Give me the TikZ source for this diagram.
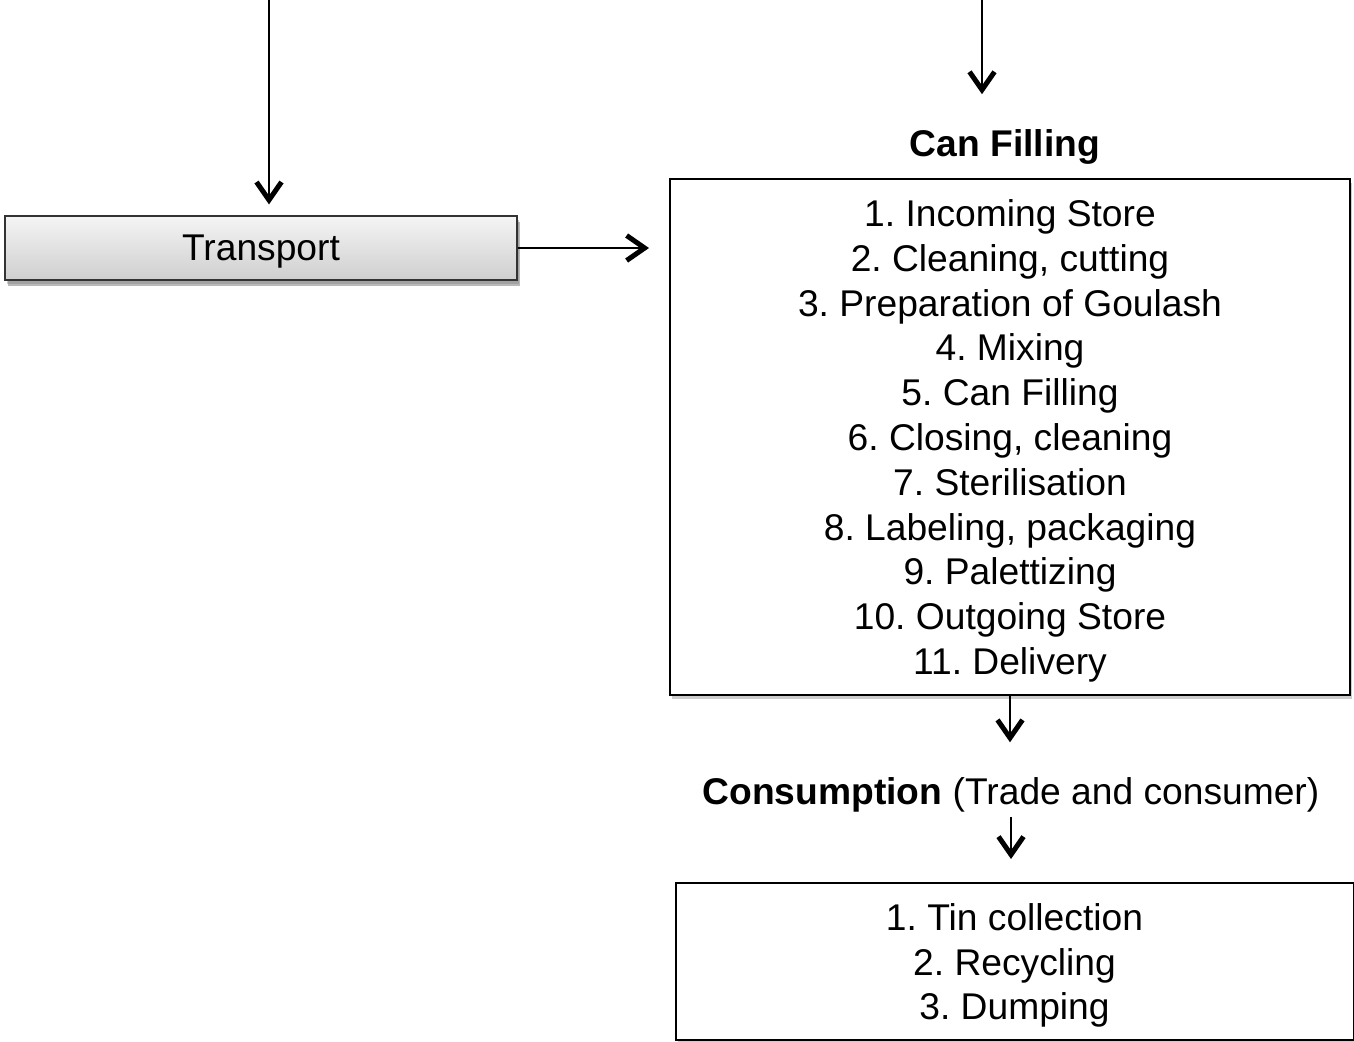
\documentclass[tikz,border=0pt]{standalone}
\usepackage{fontspec}
\setmainfont{Liberation Sans}
\usetikzlibrary{positioning,arrows.meta,shadows}
\frenchspacing

\begin{document}
\begin{tikzpicture}[x=0.5pt,y=-0.5pt,
  every node/.style={font=\fontsize{18.6}{22.4}\selectfont},
  stagebox/.style={rectangle,draw=black,line width=1pt,fill=white,align=center,inner sep=0pt,
                   text depth=0pt,
                   drop shadow={opacity=0.4,shadow xshift=1pt,shadow yshift=-2pt}},
  stagetitle/.style={inner sep=2pt},
  arrow/.style={-{Straight Barb[length=9pt,width=12.5pt,line width=2.5pt]},line width=1pt}
]
\useasboundingbox (0,0) rectangle (1354,1041);

% stages
\node[stagebox,draw=black!80,line width=0.6pt,top color=gray!8,bottom color=gray!38,
      text depth=-1.5pt,minimum width=256pt,minimum height=32pt,
      drop shadow={opacity=0.55,shadow xshift=1.5pt,shadow yshift=-3pt}] (transport) at (261,248) {Transport};
\node[stagebox,minimum width=340pt,minimum height=258pt] (filling) at (1010,437)
  {1. Incoming Store\\2. Cleaning, cutting\\3. Preparation of Goulash\\4. Mixing\\
   5. Can Filling\\6. Closing, cleaning\\7. Sterilisation\\8. Labeling, packaging\\
   9. Palettizing\\10. Outgoing Store\\11. Delivery};
\node[stagetitle,font=\fontsize{18.6}{22.4}\selectfont\bfseries] (fillingtitle) at (1005,147) {Can Filling};
\node[stagetitle] (consumption) at (1011,795) {\textbf{Consumption} (Trade and consumer)};
\node[stagebox,minimum width=339pt,minimum height=78.5pt] (disposal) at (1014.5,961.5)
  {1. Tin collection\\2. Recycling\\3. Dumping};

% incoming flows
\coordinate (feedleft) at (269,0);
\coordinate (feedright) at (982,0);
\draw[arrow,shorten >=5.5pt] (feedleft) -- (feedleft |- transport.north);
\draw[arrow,shorten >=15.5pt] (feedright) -- (feedright |- fillingtitle.north);
\draw[arrow,shorten >=10pt] (transport.east) -- (filling.west |- transport.east);
\draw[arrow,shorten >=15.5pt] (filling.south) -- (filling.south |- consumption.north);
\draw[arrow,shorten >=11.5pt] (consumption.south) -- (consumption.south |- disposal.north);
\end{tikzpicture}
\end{document}
